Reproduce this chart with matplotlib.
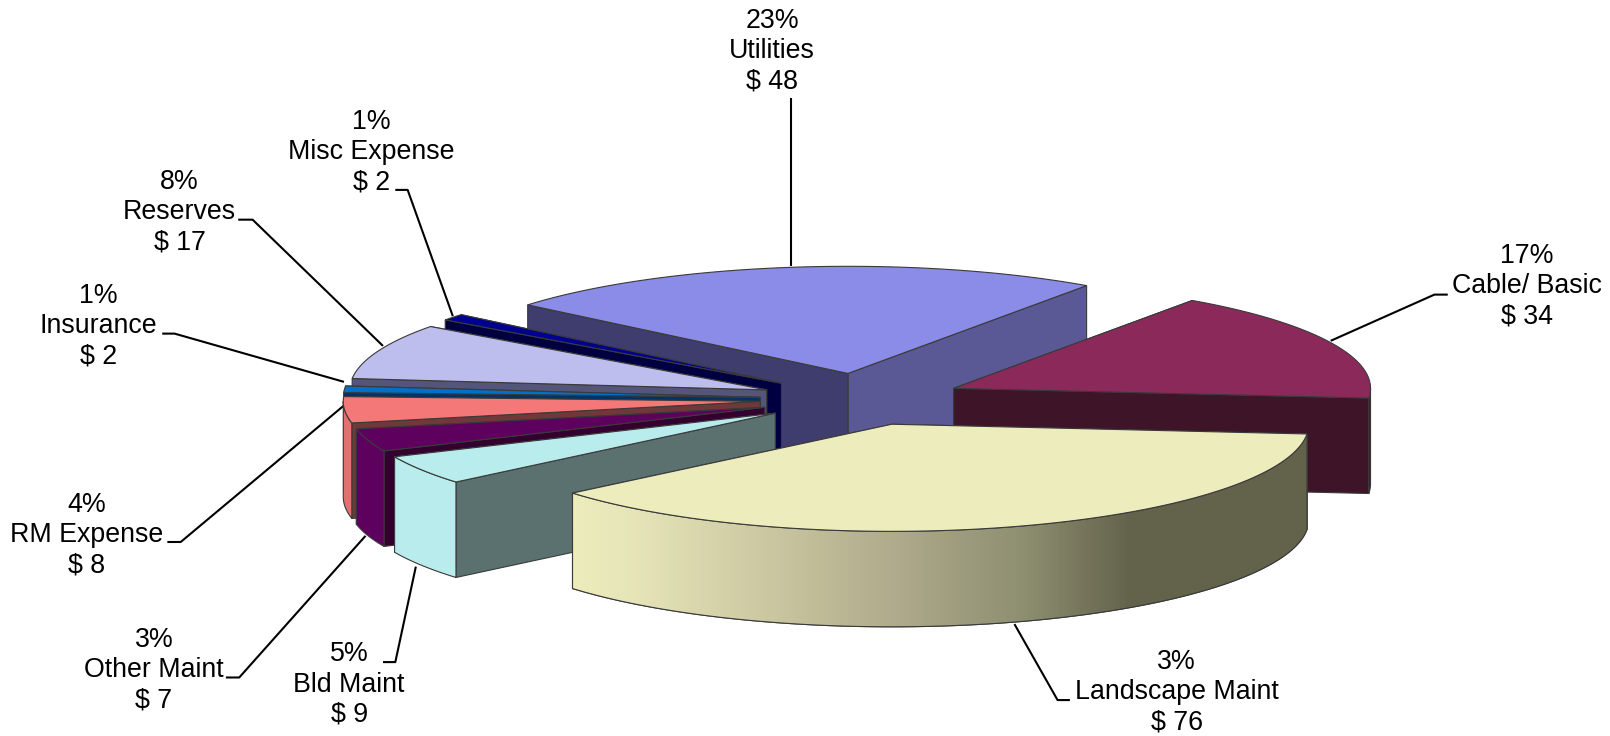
#!/usr/bin/env python3
"""Exploded 3D-look expense pie, drawn by hand as flat polygons."""
import matplotlib

matplotlib.use("Agg")
import matplotlib.pyplot as plt
import numpy as np
from matplotlib.colors import LinearSegmentedColormap
from matplotlib.patches import Polygon

plt.rcParams["font.family"] = ["Liberation Sans", "DejaVu Sans"]

# data, clockwise from the Utilities slice
names = ["Utilities", "Cable/ Basic", "Landscape Maint", "Bld Maint", "Other Maint",
         "RM Expense", "Insurance", "Reserves", "Misc Expense"]
values = [48, 34, 76, 9, 7, 8, 2, 17, 2]
percents = [23, 17, 3, 5, 3, 4, 1, 8, 1]

# colours per slice: top, outer wall, cut face at start edge, cut face at end edge
top_colors = ["#8A8CE8", "#8B2A5A", "#ECECBC", "#B9ECEC", "#5E005E",
              "#F47878", "#0070C8", "#BDBDEE", "#000090"]
wall_colors = ["#5B5995", "#3D1428", "#ECECBC", "#B9ECEC", "#5E005E",
               "#E27070", "#0070C8", "#55557A", "#000040"]
start_colors = ["#3F3D6D", "#3D1428", "#5A7170", "#5A7170", "#33002F",
                "#703838", "#003366", "#55557A", "#000040"]
end_colors = ["#5B5995", "#3D1428", "#63624B", "#5A7170", "#33002F",
              "#703838", "#003366", "#55557A", "#000040"]
landscape_ramp = LinearSegmentedColormap.from_list(
    "ramp", [(0.0, "#ECECBC"), (0.08, "#E6E5B8"), (0.24, "#CFCBA4"), (0.45, "#ADA98A"),
             (0.62, "#8D8D70"), (0.76, "#63624B"), (1.0, "#63624B")])

# pie geometry, in the axes units set in main()
CX, CY = 839, 389
RADIUS = 406
SQUASH = 0.257
DEPTH = 93
EXPLODE = 99
FIRST_ANGLE = -50.2
EDGE = "#3A3A3A"

# label centre x, y of the middle line, leader line vertices
label_pos = [(752, 50), (1487, 279), (1146, 674), (340, 667), (150, 653),
             (84, 521), (96, 318), (175, 207), (362, 148)]
leaders = [
    [(770, 259), (770, 95)],
    [(1296, 332), (1397, 287), (1410, 287)],
    [(988, 608), (1030, 682), (1042, 682)],
    [(405, 552), (385, 645), (373, 645)],
    [(356, 522), (233, 660), (220, 660)],
    [(335, 395), (176, 528), (163, 528)],
    [(335, 372), (170, 325), (158, 325)],
    [(373, 337), (246, 214), (232, 214)],
    [(441, 308), (397, 185), (385, 185)],
]


def rim(apex, angles):
    a = np.radians(angles)
    return np.column_stack([apex[0] + RADIUS * np.sin(a),
                            apex[1] - RADIUS * SQUASH * np.cos(a)])


def prism_face(pts):
    # pts along the top, then the same points dropped by the pie depth
    low = pts[::-1] + np.array([0, DEPTH])
    return np.vstack([pts, low])


def draw_slice(ax, i, apex, a0, a1):
    ends = rim(apex, np.array([a0, a1]))
    faces = [(ends[0], start_colors[i]), (ends[1], end_colors[i])]
    # the cut face further back goes first
    faces.sort(key=lambda f: f[0][1])
    for end, col in faces:
        face = prism_face(np.array([apex, end]))
        ax.add_patch(Polygon(face, closed=True, fc=col, ec=EDGE, lw=0.8))

    # outer wall, front half of the rim only
    lo, hi = max(a0, 90), min(a1, 270)
    if hi > lo:
        arc = rim(apex, np.linspace(lo, hi, 120))
        outline = prism_face(arc)
        wall = Polygon(outline, closed=True, fc=wall_colors[i], ec=EDGE, lw=0.8)
        ax.add_patch(wall)
        if names[i] == "Landscape Maint":
            grad = np.linspace(0, 1, 400).reshape(1, -1)
            im = ax.imshow(grad, cmap=landscape_ramp, aspect="auto", zorder=wall.get_zorder(),
                           extent=(outline[:, 0].min(), outline[:, 0].max(),
                                   outline[:, 1].max(), outline[:, 1].min()))
            im.set_clip_path(wall)
            ax.add_patch(Polygon(outline, closed=True, fill=False, ec=EDGE, lw=0.8))

    arc = rim(apex, np.linspace(a0, a1, 160))
    ax.add_patch(Polygon(np.vstack([[apex], arc]), closed=True,
                         fc=top_colors[i], ec=EDGE, lw=0.8))


def main():
    fig = plt.figure(figsize=(16.1, 7.36), dpi=100)
    ax = fig.add_axes([0, 0, 1, 1])

    sweep = np.array(values) / sum(values) * 360
    starts = FIRST_ANGLE + np.concatenate([[0], np.cumsum(sweep)[:-1]])
    mids = np.radians(starts + sweep / 2)
    apexes = np.column_stack([CX + EXPLODE * np.sin(mids),
                              CY - EXPLODE * SQUASH * np.cos(mids)])

    for pts in leaders:
        xs, ys = zip(*pts)
        ax.plot(xs, ys, color="black", lw=1.5, zorder=0.5, solid_capstyle="butt")

    # back to front
    for i in np.argsort(apexes[:, 1]):
        draw_slice(ax, i, apexes[i], starts[i], starts[i] + sweep[i])

    for i, name in enumerate(names):
        x, y = label_pos[i]
        ax.text(x, y, f"{percents[i]}%\n{name}\n$ {values[i]}", ha="center", va="center",
                fontsize=19.3, linespacing=1.215, color="black")

    ax.set_xlim(0, 1568)
    ax.set_ylim(717, 0)
    ax.axis("off")
    fig.savefig("out.png", dpi=100, facecolor="white")
    plt.close(fig)


if __name__ == "__main__":
    main()
